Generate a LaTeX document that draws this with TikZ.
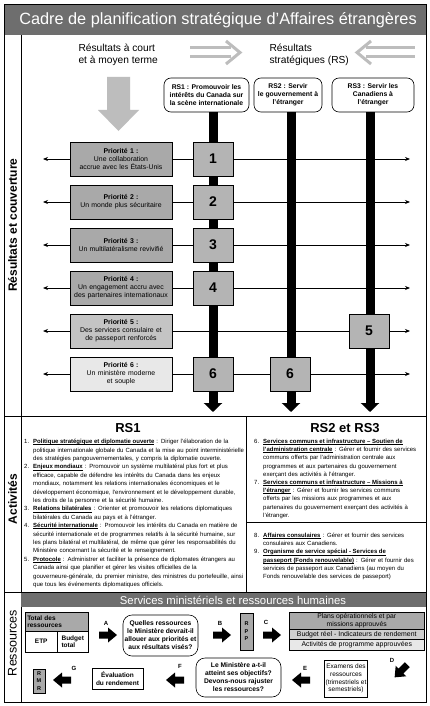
\documentclass[tikz,border=0pt]{standalone}
\usepackage{fontspec}
\setmainfont{Liberation Sans}
\usetikzlibrary{arrows.meta}
\definecolor{titlegray}{HTML}{6E6E6E}
\definecolor{pdark}{HTML}{A9A9A9}
\definecolor{pmid}{HTML}{C4C4C4}
\definecolor{plight}{HTML}{E8E8E8}
\definecolor{numgray}{HTML}{B4B4B4}
\definecolor{arrowgray}{HTML}{BDBDBD}
\definecolor{rowmid}{HTML}{CFCFCF}
\def\ulw#1{\setbox0\hbox{#1}\rlap{\vrule height -0.8pt depth 1.2pt width \wd0}\box0}
\def\ulspace{\leaders\hrule height -0.8pt depth 1.2pt\hskip 0.27em plus 0.12em minus 0.06em\relax}
\def\myulstop{}
\def\myul#1{\myulloop#1 \myulstop{} }
\def\myulloop#1 {\ifx\myulstop#1\unskip\else\ulw{#1}\ulspace\expandafter\myulloop\fi}
\newcommand\actitem[3]{\par\noindent\hangindent=9pt\hangafter=1\makebox[9pt][l]{#1.}\textbf{\myul{#2}}#3}
\begin{document}
\begin{tikzpicture}[x=1pt,y=-1pt,
  pbox/.style={draw=black, line width=0.5pt, minimum width=102pt, minimum height=34pt, inner sep=1pt, align=center, text width=100pt, font=\fontsize{6.9}{8}\selectfont},
  numbox/.style={draw=black, line width=0.5pt, fill=numgray, minimum width=40pt, minimum height=34pt, font=\bfseries\fontsize{14}{14}\selectfont},
  rsbox/.style={draw=black, line width=0.6pt, rounded corners=7pt, fill=white, align=center, minimum height=34pt, inner sep=1pt, font=\bfseries\fontsize{6.8}{8}\selectfont},
  hline/.style={line width=0.8pt, {Stealth[length=5pt,width=4pt]}-{Stealth[length=5pt,width=4pt]}},
  bar/.style={line width=9pt, -{Triangle[length=9pt,width=18pt]}},
  garr/.style={draw=arrowgray, line width=3pt},
  sidelabel/.style={rotate=90, font=\bfseries\fontsize{12}{12}\selectfont},
  plainbox/.style={draw=black, line width=0.5pt, align=center, inner sep=1pt, font=\fontsize{6.5}{7.8}\selectfont},
  roundq/.style={draw=black, line width=0.6pt, rounded corners=9pt, align=center, inner sep=1pt, font=\bfseries\fontsize{6.7}{8}\selectfont},
  alabel/.style={font=\bfseries\fontsize{6}{6}\selectfont, inner sep=0pt},
  acttext/.style={anchor=north west, inner sep=0pt, font=\fontsize{6}{8.2}\selectfont},
  fatarrow/.pic={\fill[black] (-9,-3.5) -- (0,-3.5) -- (0,-7.5) -- (9,0) -- (0,7.5) -- (0,3.5) -- (-9,3.5) -- cycle;}
]
\useasboundingbox (0,0) rectangle (430,706);
\fill[white] (0,0) rectangle (430,706);
% title
\fill[titlegray] (4,4) rectangle (426,35);
\node[text=white, font=\fontsize{16.3}{17}\selectfont] (title) at (218,20) {Cadre de planification stratégique d’Affaires étrangères};
% frame
\draw[line width=0.8pt] (4,4) rectangle (426,702);
\draw[line width=0.7pt] (21,35) -- (21,702);
\draw[line width=0.7pt] (4,416) -- (426,416);
\draw[line width=0.7pt] (4,592) -- (426,592);
\draw[line width=0.7pt] (246,416) -- (246,592);
\draw[line width=0.7pt] (246,522) -- (426,522);
% side labels
\node[sidelabel] (lab1) at (12.5,225) {Résultats et couverture};
\node[sidelabel] (lab2) at (12.5,499) {Activités};
\node[rotate=90, font=\fontsize{12.5}{12.5}\selectfont] (lab3) at (12.5,643) {Ressources};
% top texts
\node[anchor=west, align=left, font=\fontsize{10.2}{12.5}\selectfont] (court) at (75,55) {Résultats à court\\et à moyen terme};
\node[anchor=west, align=left, font=\fontsize{10.2}{12.5}\selectfont] (strat) at (266,55) {Résultats\\stratégiques (RS)};
% gray arrows
\draw[garr] (190,48) -- (231,48) (190,57) -- (231,57);
\draw[garr, line join=miter] (226,41) -- (240,52.5) -- (226,64);
\draw[garr] (366,48) -- (415,48) (366,57) -- (415,57);
\draw[garr, line join=miter] (371,41) -- (357,52.5) -- (371,64);
\fill[arrowgray] (107,77) -- (130,77) -- (130,110) -- (139,110) -- (118.5,131) -- (98,110) -- (107,110) -- cycle;
% RS boxes
\node[rsbox, minimum width=85pt] (rs1) at (206.5,95) {RS1 : Promouvoir les\\intérêts du Canada sur\\la scène internationale};
\node[rsbox, minimum width=68pt] (rs2) at (288,95) {RS2 : Servir\\le gouvernement à\\l’étranger};
\node[rsbox, minimum width=82pt] (rs3) at (373,95) {RS3 : Servir les\\Canadiens à\\l’étranger};
% horizontal lines
\foreach \i/\y in {1/159,2/202,3/245,4/288,5/331,6/374}{
  \coordinate (l\i) at (43,\y);
  \coordinate (r\i) at (410,\y);
  \draw[hline] (l\i) -- (r\i);
}
% bars
\coordinate (b1) at (213,412);
\coordinate (b2) at (291,412);
\coordinate (b3) at (370,412);
\draw[bar] (rs1.south -| b1) -- (b1);
\draw[bar] (rs2.south -| b2) -- (b2);
\draw[bar] (rs3.south -| b3) -- (b3);
% priority boxes
\node[pbox, fill=pdark] (p1) at (121,159) {\textbf{Priorité 1 :}\\Une collaboration\\accrue avec les États-Unis};
\node[pbox, fill=pdark] (p2) at (121,202) {\textbf{Priorité 2 :}\\Un monde plus sécuritaire};
\node[pbox, fill=pdark] (p3) at (121,245) {\textbf{Priorité 3 :}\\Un multilatéralisme revivifié};
\node[pbox, fill=pdark] (p4) at (121,288) {\textbf{Priorité 4 :}\\Un engagement accru avec\\des partenaires internationaux};
\node[pbox, fill=pmid] (p5) at (121,331) {\textbf{Priorité 5 :}\\Des services consulaire et\\de passeport renforcés};
\node[pbox, fill=plight] (p6) at (121,374) {\textbf{Priorité 6 :}\\Un ministère moderne\\et souple};
% number boxes
\node[numbox] (n1) at (213,159) {1};
\node[numbox] (n2) at (213,202) {2};
\node[numbox] (n3) at (213,245) {3};
\node[numbox] (n4) at (213,288) {4};
\node[numbox] (n5) at (369,331) {5};
\node[numbox] (n6a) at (213,374) {6};
\node[numbox] (n6b) at (290,374) {6};
% activities
\node[font=\bfseries\fontsize{13}{13}\selectfont] (h1) at (128,428) {RS1};
\node[font=\bfseries\fontsize{13}{13}\selectfont] (h2) at (345,428) {RS2 et RS3};
\node[acttext, text width=220pt, font=\fontsize{6}{8.4}\selectfont] (act1) at (24,435) {\raggedright
\actitem{1}{Politique stratégique et diplomatie ouverte}{ : Diriger l’élaboration de la politique internationale globale du Canada et la mise au point interminis\-térielle des stratégies pangouvernementales, y compris la diplomatie ouverte.}
\actitem{2}{Enjeux mondiaux}{ : Promouvoir un système multilatéral plus fort et plus efficace, capable de défendre les intérêts du Canada dans les enjeux mondiaux, notamment les relations internationales économiques et le développement économique, l’environnement et le développement durable, les droits de la personne et la sécurité humaine.}
\actitem{3}{Relations bilatérales}{ : Orienter et promouvoir les relations diplomatiques bilatérales du Canada au pays et à l’étranger.}
\actitem{4}{Sécurité internationale}{ : Promouvoir les intérêts du Canada en matière de sécurité internationale et de programmes relatifs à la sécurité humaine, sur les plans bilatéral et multilatéral, de même que gérer les responsabilités du Ministère concernant la sécurité et le renseignement.}
\actitem{5}{Protocole}{ : Administrer et faciliter la présence de diplomates étrangers au Canada ainsi que planifier et gérer les visites officielles de la gouverneure-générale, du premier ministre, des ministres du portefeuille, ainsi que tous les événements diplomatiques officiels.}\par};
\node[acttext, text width=166pt] (act2) at (254,435) {\raggedright
\actitem{6}{Services communs et infrastructure – Soutien de l’administration centrale}{ : Gérer et fournir des services communs offerts par l’administration centrale aux programmes et aux partenaires du gouvernement exerçant des activités à l’étranger.}
\actitem{7}{Services communs et infrastructure – Missions à l’étranger}{ : Gérer et fournir les services communs\newline offerts par les missions aux programmes et aux\newline partenaires du gouvernement exerçant des activités à\newline l’étranger.}\par};
\node[acttext, text width=160pt] (act3) at (254,529) {\raggedright
\actitem{8}{Affaires consulaires}{ : Gérer et fournir des services consulaires aux Canadiens.}
\actitem{9}{Organisme de service spécial - Services de passeport (Fonds renouvelable)}{ : Gérer et fournir des services de passeport aux Canadiens (au moyen du Fonds renouvelable des services de passeport)}\par};
% resources band
\fill[titlegray] (21,593) rectangle (426,607);
\node[text=white, font=\fontsize{11.3}{11.3}\selectfont] (band) at (233,600) {Services ministériels et ressources humaines};
% total box
\node[draw=black, line width=0.5pt, fill=pdark, anchor=north west, minimum width=63pt, minimum height=19pt, text width=59pt, inner sep=2pt, align=left, font=\bfseries\fontsize{6.5}{7.6}\selectfont] (tot) at (25,612) {Total des\\ressources};
\node[draw=black, line width=0.5pt, anchor=north west, minimum width=32pt, minimum height=21pt, inner sep=1pt, font=\bfseries\fontsize{6.5}{7.6}\selectfont] (etp) at (25,631) {ETP};
\node[draw=black, line width=0.5pt, anchor=north west, minimum width=31pt, minimum height=21pt, inner sep=2pt, align=left, font=\bfseries\fontsize{6.5}{7.6}\selectfont] (bud) at (57,631) {Budget\\total};
\node[roundq, minimum width=75pt, minimum height=41pt] (q1) at (160.5,635.5) {Quelles ressources\\le Ministère devrait-il\\allouer aux priorités et\\aux résultats visés?};
\node[draw=black, line width=0.5pt, fill=pdark, minimum width=13pt, minimum height=37pt, inner sep=0pt, align=center, font=\bfseries\fontsize{5.5}{7.5}\selectfont] (rpp) at (246.5,631.5) {R\\P\\P};
\node[draw=black, line width=0.5pt, fill=pdark, anchor=north west, minimum width=135pt, minimum height=17pt, inner sep=0pt, align=center, font=\fontsize{6.8}{7.6}\selectfont] (row1) at (289,612) {Plans opérationnels et par\\missions approuvés};
\node[draw=black, line width=0.5pt, fill=rowmid, anchor=north west, minimum width=135pt, minimum height=10pt, inner sep=0pt, font=\fontsize{6.9}{7.2}\selectfont] (row2) at (289,629) {Budget réel - Indicateurs de rendement};
\node[draw=black, line width=0.5pt, fill=plight, anchor=north west, minimum width=135pt, minimum height=11pt, inner sep=0pt, font=\fontsize{6.9}{7.2}\selectfont] (row3) at (289,639) {Activités de programme approuvées};
\node[plainbox, minimum width=36pt, minimum height=37pt] (exam) at (346,678.5) {Examens des\\ressources\\(trimestriels et\\semestriels)};
\node[roundq, minimum width=85pt, minimum height=39pt] (q2) at (238.5,677.5) {Le Ministère a-t-il\\atteint ses objectifs?\\Devons-nous rajuster\\les ressources?};
\node[plainbox, minimum width=51pt, minimum height=21pt, font=\bfseries\fontsize{6.5}{7.8}\selectfont] (eval) at (117.5,678.5) {Évaluation\\du rendement};
\node[draw=black, line width=0.5pt, fill=pdark, minimum width=12pt, minimum height=24pt, inner sep=0pt, align=center, font=\bfseries\fontsize{5.5}{7.3}\selectfont] (rmr) at (39,681) {R\\M\\R};
% fat arrows
\pic at (108,635) {fatarrow};
\pic at (222,635) {fatarrow};
\pic at (272,635) {fatarrow};
\pic[rotate=225] at (401,671) {fatarrow};
\pic[rotate=180] at (301,680) {fatarrow};
\pic[rotate=180] at (175,680) {fatarrow};
\pic[rotate=180] at (62,680) {fatarrow};
\node[alabel] (la) at (106,623) {A};
\node[alabel] (lb) at (220,623) {B};
\node[alabel] (lc) at (266,622) {C};
\node[alabel] (ld) at (392,660) {D};
\node[alabel] (le) at (305,668) {E};
\node[alabel] (lf) at (180,666) {F};
\node[alabel] (lg) at (74,668) {G};
\end{tikzpicture}
\end{document}
